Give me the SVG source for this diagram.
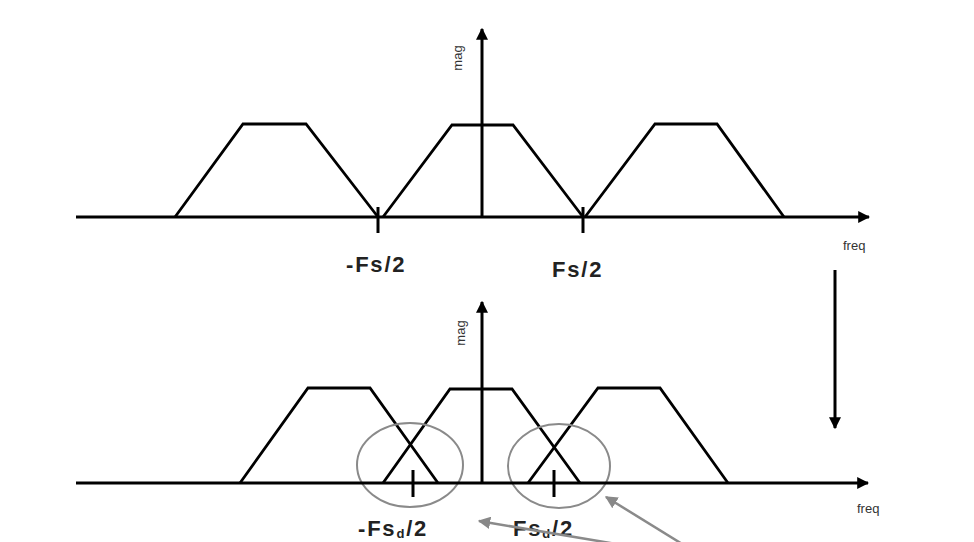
<svg xmlns="http://www.w3.org/2000/svg" width="974" height="542" viewBox="0 0 974 542">
<defs>
<marker id="ah" viewBox="0 0 10 10" refX="9" refY="5" markerWidth="4" markerHeight="4" orient="auto" markerUnits="strokeWidth"><path d="M0,0 L10,5 L0,10 z" fill="#000"/></marker>
<marker id="ahg" viewBox="0 0 10 10" refX="9" refY="5" markerWidth="5" markerHeight="5" orient="auto" markerUnits="strokeWidth"><path d="M0,0 L10,5 L0,10 z" fill="#888"/></marker>
<style>
.ax{stroke:#000;stroke-width:3;fill:none}
.tr{stroke:#000;stroke-width:2.8;fill:none;stroke-linejoin:miter}
.tk{stroke:#000;stroke-width:3}
.el{stroke:#8a8a8a;stroke-width:2;fill:none}
.ga{stroke:#8a8a8a;stroke-width:2.5;fill:none}
.sm{font-family:"Liberation Sans",Arial,sans-serif;font-size:13px;fill:#333}
.big{font-family:"Liberation Sans",Arial,sans-serif;font-size:22px;font-weight:bold;fill:#222;letter-spacing:1.8px}
</style>
</defs>
<rect width="974" height="542" fill="#fff"/>
<g id="top-plot">
<path class="tr" d="M175,217 L243,124 L306,124 L378,217"/>
<path class="tr" d="M383,217 L452,125 L513,125 L583,217"/>
<path class="tr" d="M585,217 L655,124 L717,124 L784,217"/>
<line class="tk" x1="378" y1="207" x2="378" y2="233"/>
<line class="tk" x1="583" y1="207" x2="583" y2="233"/>
<text class="sm" transform="translate(462,58) rotate(-90)" text-anchor="middle">mag</text>
<text class="sm" x="843" y="250">freq</text>
<text class="big" x="346" y="272">-Fs/2</text>
<text class="big" x="552" y="277">Fs/2</text>
</g>
<g id="bottom-plot">
<path class="tr" d="M240,483 L308,388 L370,388 L438,483"/>
<path class="tr" d="M383,483 L450,389 L512,389 L580,483"/>
<path class="tr" d="M528,483 L598,388 L660,388 L728,483"/>
<line class="tk" x1="413" y1="470" x2="413" y2="497"/>
<line class="tk" x1="554" y1="470" x2="554" y2="497"/>
<ellipse id="circle-left" class="el" cx="410" cy="465" rx="53" ry="42"/>
<ellipse id="circle-right" class="el" cx="559" cy="466" rx="51" ry="42"/>
<text class="sm" transform="translate(465,333) rotate(-90)" text-anchor="middle">mag</text>
<text class="sm" x="857" y="513">freq</text>
<text class="big" x="358" y="536">-Fs<tspan font-size="13" dy="2">d</tspan><tspan dy="-2">/2</tspan></text>
<text class="big" x="513" y="536">Fs<tspan font-size="13" dy="2">d</tspan><tspan dy="-2">/2</tspan></text>
</g>
<g id="connectors">
<line class="ax" x1="76" y1="217" x2="869" y2="217" marker-end="url(#ah)"/>
<line class="ax" x1="482" y1="217" x2="482" y2="29" marker-end="url(#ah)"/>
<line class="ax" x1="76" y1="483" x2="868" y2="483" marker-end="url(#ah)"/>
<line class="ax" x1="482" y1="483" x2="482" y2="302" marker-end="url(#ah)"/>
<line class="ax" x1="835" y1="270" x2="835" y2="428" marker-end="url(#ah)"/>
<line class="ga" x1="700" y1="555" x2="606" y2="497" marker-end="url(#ahg)"/>
<line class="ga" x1="670" y1="553" x2="479" y2="521" marker-end="url(#ahg)"/>
</g>
</svg>
